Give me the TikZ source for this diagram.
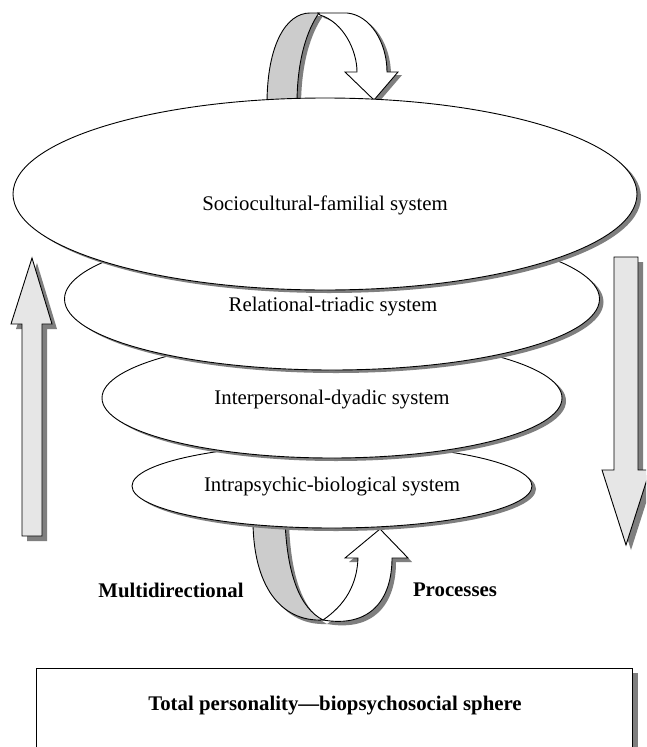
\documentclass[tikz,border=0pt]{standalone}
\usepackage{fontspec}
\setmainfont{Liberation Serif}
\usetikzlibrary{shapes.geometric}
\definecolor{shd}{HTML}{7F7F7F}
\definecolor{band}{HTML}{CCCCCC}
\definecolor{pale}{HTML}{E6E6E6}
\tikzset{
  sys/.style={ellipse, draw=black, fill=white, inner sep=0pt, line width=0.9pt},
  sysshd/.style={ellipse, fill=shd, inner sep=0pt},
  lbl/.style={inner sep=0pt, font=\fontsize{20.8}{24}\selectfont},
  blbl/.style={inner sep=0pt, font=\fontsize{20.8}{24}\selectfont\bfseries},
  outline/.style={draw=black, line width=0.9pt, line join=miter},
  topgray/.style={insert path={(267,104) .. controls (267,45) and (286,13) .. (310,13) -- (319,13)
      .. controls (307,30) and (297,60) .. (297,104) -- cycle}},
  topwhite/.style={insert path={(318,13) -- (347,13) .. controls (370,15) and (387,42) .. (387,72)
      -- (398,72) -- (374,100) -- (345,72) -- (357,72)
      .. controls (357,50) and (343,22) .. (320,15) -- cycle}},
  botgray/.style={insert path={(253,520) .. controls (253,585) and (280,622) .. (323,620)
      .. controls (300,608) and (287,575) .. (285,520) -- cycle}},
  botwhite/.style={insert path={(323,620) .. controls (370,628) and (392,600) .. (392,558)
      -- (408,558) -- (380,529) -- (345,558) -- (358,558)
      .. controls (357,585) and (345,605) .. (323,620) -- cycle}},
  leftarr/.style={insert path={(22,536) -- (22,324) -- (11,324) -- (32,258) -- (52,324) -- (42,324) -- (42,536) -- cycle}},
  rightarr/.style={insert path={(614,257) -- (638,257) -- (638,470) -- (650,470) -- (626,545) -- (602,470) -- (614,470) -- cycle}}
}
\begin{document}
\begin{tikzpicture}[x=1pt,y=-1pt]
\useasboundingbox (0,0) rectangle (646,747);
\clip (0,0) rectangle (646,747);
\fill[white] (0,0) rectangle (646,747);

% bottom loop arrow
\fill[shd, shift={(4,4)}, botgray];
\fill[shd, shift={(4,4)}, botwhite];
\path[fill=band, outline, botgray];
\path[fill=white, outline, botwhite];

% stacked systems, bottom first
\node[sysshd, minimum width=400pt, minimum height=84pt] (e4s) at (336,489) {};
\node[sys, minimum width=400pt, minimum height=84pt] (e4) at (332,486) {};
\node[sysshd, minimum width=460pt, minimum height=120pt] (e3s) at (336,401) {};
\node[sys, minimum width=460pt, minimum height=120pt] (e3) at (332,398) {};
\node[sysshd, minimum width=535pt, minimum height=142pt] (e2s) at (336,302) {};
\node[sys, minimum width=535pt, minimum height=142pt] (e2) at (332,299) {};

% top loop arrow
\fill[shd, shift={(4,3)}, topgray];
\fill[shd, shift={(4,3)}, topwhite];
\path[fill=band, outline, topgray];
\path[fill=white, outline, topwhite];

\node[sysshd, minimum width=624pt, minimum height=192pt] (e1s) at (329,197) {};
\node[sys, minimum width=624pt, minimum height=192pt] (e1) at (325,194) {};

% side arrows
\fill[shd, shift={(5,5)}, leftarr];
\path[fill=pale, outline, leftarr];
\fill[shd, shift={(5,5)}, rightarr];
\path[fill=pale, outline, rightarr];

% bottom box
\fill[shd] (38,673) rectangle (638,760);
\node[draw=black, fill=white, line width=0.9pt, minimum width=596pt, minimum height=92pt, anchor=north west, inner sep=0pt] (box) at (36,668) {};

% texts
\node[lbl] (t1) at (325,205) {Sociocultural-familial system};
\node[lbl] (t2) at (333,307) {Relational-triadic system};
\node[lbl] (t3) at (332,400) {Interpersonal-dyadic system};
\node[lbl] (t4) at (332,487) {Intrapsychic-biological system};
\node[blbl] (m1) at (171,590) {Multidirectional};
\node[blbl] (m2) at (455,590) {Processes};
\node[blbl] (tot) at (335,706) {Total personality---biopsychosocial sphere};
\end{tikzpicture}
\end{document}
